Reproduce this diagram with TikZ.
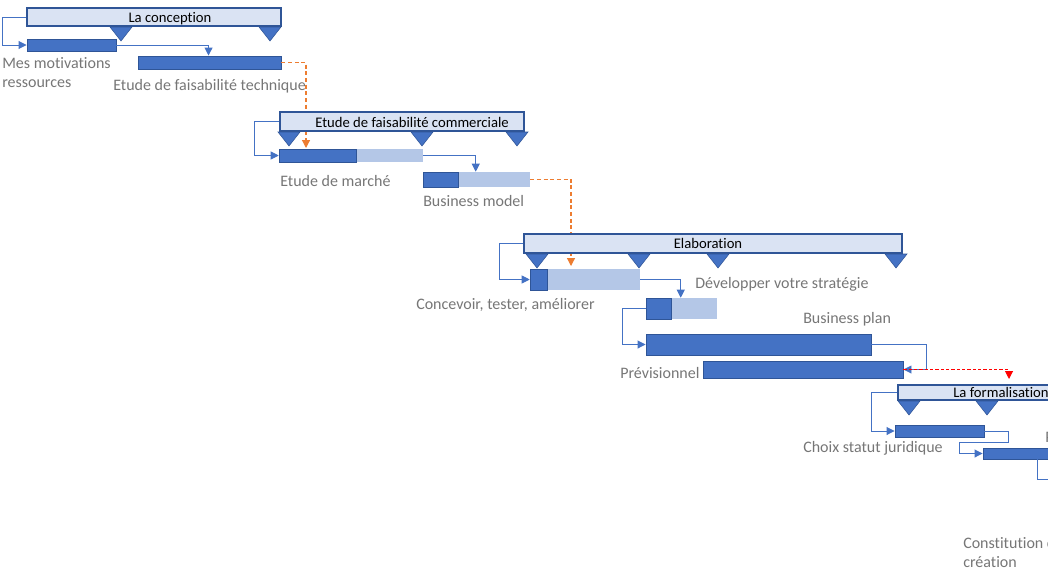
\documentclass[tikz,border=0pt]{standalone}
\usepackage{fontspec}
\setmainfont{Carlito}[Ligatures=NoCommon]
\usetikzlibrary{arrows.meta,fit,calc}
\definecolor{sumfill}{HTML}{DAE3F3}
\definecolor{edge}{HTML}{2F5597}
\definecolor{darkb}{HTML}{4472C4}
\definecolor{lightb}{HTML}{B4C7E7}
\definecolor{lbl}{HTML}{767676}
\definecolor{orng}{HTML}{ED7D31}
\newcommand\milestone[2]{\filldraw[fill=darkb,draw=edge,line width=0.4pt] ({#1-11},#2) -- ({#1+11},#2) -- (#1,{#2+14}) -- cycle;}
\begin{document}
\begin{tikzpicture}[x=0.75pt,y=-0.75pt,
 summ/.style={draw=edge, fill=sumfill, line width=0.8pt, inner sep=0pt},
 darkbar/.style={draw=edge, fill=darkb, line width=0.7pt, inner sep=0pt},
 lightbar/.style={fill=lightb, inner sep=0pt},
 conn/.style={draw=darkb, line width=0.7pt, -{Triangle[length=6pt,width=6pt]}},
 odash/.style={draw=orng, dash pattern=on 3pt off 2pt, line width=0.9pt, -{Triangle[length=6pt,width=6pt]}},
 rdash/.style={draw=red, dash pattern=on 2.5pt off 1.5pt, line width=0.7pt, -{Triangle[length=6pt,width=6pt]}},
 plain/.style={draw=darkb, line width=0.7pt},
 lab/.style={text=lbl, font=\fontsize{12pt}{14pt}\selectfont, inner sep=0pt, anchor=west, text height=1.5ex, text depth=0.25ex},
 tl/.style={font=\fontsize{11pt}{13pt}\selectfont, inner sep=0pt, text height=1.5ex, text depth=0.25ex}
]
\useasboundingbox (0,0) rectangle (1048,586);
\clip (0,0) rectangle (1048,586);

% ---------------- La conception
\node[summ, fit={(27,8)(281,26)}] (s1) {};
\node[tl] (t1) at (170,19) {La conception};
\milestone{121}{27}
\milestone{270}{27}
\node[darkbar, fit={(27,39)(116,51)}] (b1) {};
\node[darkbar, fit={(138,56)(281,69)}] (b2) {};
\node[lab] (l1a) at (2,65) {Mes motivations};
\node[lab] (l1b) at (2,84) {ressources};
\node[lab] (l2) at (113,87) {Etude de faisabilité technique};
\draw[conn] (s1.west) -- ++(-24,0) |- (b1.west);
\draw[conn] (b1.east) -| ($(b2.north west)+(71,0)$);

% orange link 1 (behind summary 2)
\coordinate (o1) at (306,148);
\draw[odash] (b2.east) -| (o1);

% ---------------- Etude de faisabilite commerciale
\node[summ, fit={(280,112)(524,131)}] (s2) {};
\node[tl] (t2) at (412,124) {Etude de faisabilité commerciale};
\milestone{289}{132}
\milestone{422}{132}
\milestone{517}{132}
\node[lightbar, fit={(279,149)(423,162)}] (b3) {};
\node[darkbar, fit={(279,149)(356,162)}] (b3d) {};
\node[lightbar, fit={(423,172)(530,187)}] (b4) {};
\node[darkbar, fit={(423,172)(458,187)}] (b4d) {};
\node[lab] (l3) at (280,183) {Etude de marché};
\node[lab] (l4) at (423,203) {Business model};
\draw[conn] (s2.west) -- ++(-25,0) |- (b3.west);
\draw[conn] (b3.east) -| ($(b4.north west)+(53,0)$);

% orange link 2 (behind summary 3)
\coordinate (o2) at (571,266);
\draw[odash] (b4.east) -| (o2);

% ---------------- Elaboration
\node[summ, fit={(524,234)(902,253)}] (s3) {};
\node[tl] (t3) at (708,245) {Elaboration};
\milestone{537}{254}
\milestone{639}{254}
\milestone{718}{254}
\milestone{896}{254}
\node[lightbar, fit={(530,269)(640,290)}] (b5) {};
\node[darkbar, fit={(530,269)(547,290)}] (b5d) {};
\node[lightbar, fit={(646,298)(717,319)}] (b6) {};
\node[darkbar, fit={(646,298)(671,319)}] (b6d) {};
\node[darkbar, fit={(646,334)(871,355)}] (b7) {};
\node[darkbar, fit={(703,361)(903,378)}] (b8) {};
\node[lab] (l5) at (695,285) {Développer votre stratégie};
\node[lab] (l6) at (416,306) {Concevoir, tester, améliorer};
\node[lab] (l7) at (803,320) {Business plan};
\node[lab] (l8) at (620,375) {Prévisionnel};
\draw[conn] (s3.west) -- ++(-24,0) |- (b5.west);
\draw[conn] (b5.east) -| ($(b6.north west)+(35,0)$);
\draw[conn] (b6.west) -- ++(-23,0) |- (b7.west);
\draw[conn] (b7.east) -- ++(55,0) |- (b8.east);

% red link
\coordinate (r1) at (1009,379);
\draw[rdash] (b8.east) -| (r1);

% ---------------- La formalisation
\node[summ, fit={(898,385)(1070,400)}] (s4) {};
\node[tl, anchor=west] (t4) at (953,394) {La formalisation};
\milestone{909}{401}
\milestone{987}{401}
\node[darkbar, fit={(895,425)(984,437)}] (b9) {};
\node[darkbar, fit={(983,448)(1070,459)}] (b10) {};
\node[lab] (l9) at (803,449) {Choix statut juridique};
\node[lab] (l10) at (1045,439) {P};
\node[lab] (l11a) at (963,545) {Constitution de};
\node[lab] (l11b) at (963,564) {création};
\draw[conn] (s4.west) -- ++(-26,0) |- (b9.west);
\draw[conn] (b9.east) -- ++(24,0) -- ++(0,11) -- ++(-49,0) |- (b10.west);
\coordinate (e1) at (1060,479);
\draw[plain] ($(b10.south west)+(55,0)$) |- (e1);
\end{tikzpicture}
\end{document}
